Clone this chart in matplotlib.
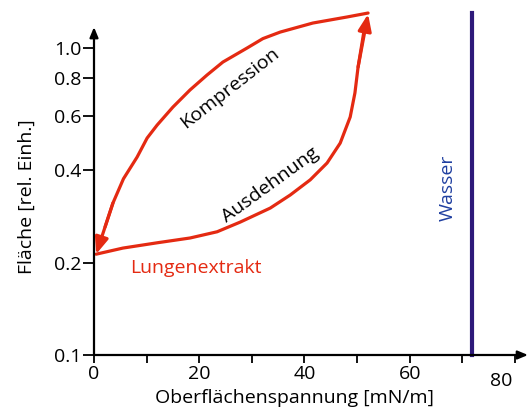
import numpy as np
import matplotlib.pyplot as plt
import matplotlib.transforms as mtransforms

plt.rcParams['font.family'] = ['Open Sans', 'DejaVu Sans']

# Ausdehnung (lower branch, from bottom-left up to the top)
aus_x = [0.4, 5.5, 12.0, 18.25, 23.4, 27.8, 33.5, 37.3, 41.1, 44.3, 46.8, 48.7, 49.6, 50.2, 50.95, 51.5, 52.1]
aus_y = [0.213, 0.223, 0.232, 0.2405, 0.252, 0.271, 0.301, 0.332, 0.372, 0.422, 0.49, 0.596, 0.714, 0.867, 1.038, 1.188, 1.29]

# Kompression (upper branch, from the top back to bottom-left)
komp_x = [52.1, 48.1, 41.6, 35.4, 32.1, 29.1, 24.5, 21.5, 18.25, 15.0, 12.0, 10.1, 8.2, 5.6, 3.6, 2.1, 0.4]
komp_y = [1.30, 1.262, 1.206, 1.127, 1.073, 1.0, 0.90, 0.817, 0.73, 0.642, 0.561, 0.509, 0.4415, 0.375, 0.3126, 0.2612, 0.213]

wasser_x = 71.8
wasser_y = [0.1, 1.30]

yticks = [0.1, 0.2, 0.4, 0.6, 0.8, 1.0]
ylabels = ['0.1', '0.2', '0.4', '0.6', '0.8', '1.0']
xticks = [0, 20, 40, 60, 80]
xminor = [10, 30, 50, 70]

red = '#e42a12'
blue_line = '#2e1a7a'
blue_text = '#1f3fa0'

fig = plt.figure(figsize=(5.32, 4.15), dpi=100)
ax = fig.add_axes([94 / 532, 60 / 415, 434 / 532, 347 / 415])
ax.set_yscale('log')
ax.set_xlim(0, 82.5)
ax.set_ylim(0.1, 1.35)

for s in ax.spines.values():
    s.set_visible(False)

# axes with arrows
ax.annotate('', xy=(82.5, 0.1), xytext=(0, 0.1), annotation_clip=False,
            arrowprops=dict(arrowstyle='-|>,head_length=0.6,head_width=0.25', color='k', lw=1.6,
                            shrinkA=0, shrinkB=0))
ax.annotate('', xy=(0, 1.17), xytext=(0, 0.1), annotation_clip=False,
            arrowprops=dict(arrowstyle='-|>,head_length=0.6,head_width=0.25', color='k', lw=1.6,
                            shrinkA=0, shrinkB=0))

ax.set_yticks(yticks)
ax.set_yticklabels(ylabels)
ax.yaxis.set_minor_locator(plt.NullLocator())
ax.set_xticks(xticks)
ax.set_xticks(xminor, minor=True)
ax.tick_params(axis='y', which='major', length=8, width=1.3, labelsize=14, pad=1)
ax.tick_params(axis='x', which='both', length=6, width=1.3, labelsize=14, pad=1)
ax.tick_params(axis='x', which='minor', labelbottom=False)

# the "80" label sits a bit left and lower in the reference
lab80 = ax.get_xticklabels()[-1]
lab80.set_transform(lab80.get_transform() + mtransforms.ScaledTranslation(-14 / 100, -7 / 100, fig.dpi_scale_trans))

ax.set_xlabel('Oberflächenspannung [mN/m]', fontsize=14)
ax.xaxis.set_label_coords(0.461, -0.098)
ax.set_ylabel('Fläche [rel. Einh.]', fontsize=14)
ax.yaxis.set_label_coords(-0.135, 0.455)

# loop
ax.plot(aus_x[:-1], aus_y[:-1], color=red, lw=2.3, solid_capstyle='round', clip_on=False)
ax.plot(komp_x[:-1], komp_y[:-1], color=red, lw=2.3, solid_capstyle='round', clip_on=False)
ax.annotate('', xy=(aus_x[-1], aus_y[-1]), xytext=(aus_x[-4], aus_y[-4]), annotation_clip=False,
            arrowprops=dict(arrowstyle='-|>,head_length=1.0,head_width=0.4', color=red, lw=2.3,
                            shrinkA=0, shrinkB=0))
ax.annotate('', xy=(komp_x[-1], komp_y[-1]), xytext=(komp_x[-3], komp_y[-3]), annotation_clip=False,
            arrowprops=dict(arrowstyle='-|>,head_length=1.0,head_width=0.4', color=red, lw=2.3,
                            shrinkA=0, shrinkB=0), zorder=5)

ax.plot([wasser_x, wasser_x], wasser_y, color=blue_line, lw=3, clip_on=False)

ax.text(25.9, 0.741, 'Kompression', rotation=38, fontsize=14, ha='center', va='center')
ax.text(33.5, 0.358, 'Ausdehnung', rotation=36, fontsize=14, ha='center', va='center')
ax.text(19.4, 0.192, 'Lungenextrakt', color=red, fontsize=14, ha='center', va='center')
ax.text(67.3, 0.35, 'Wasser', color=blue_text, rotation=90, fontsize=14, ha='center', va='center')

fig.savefig('out.png', dpi=100)
